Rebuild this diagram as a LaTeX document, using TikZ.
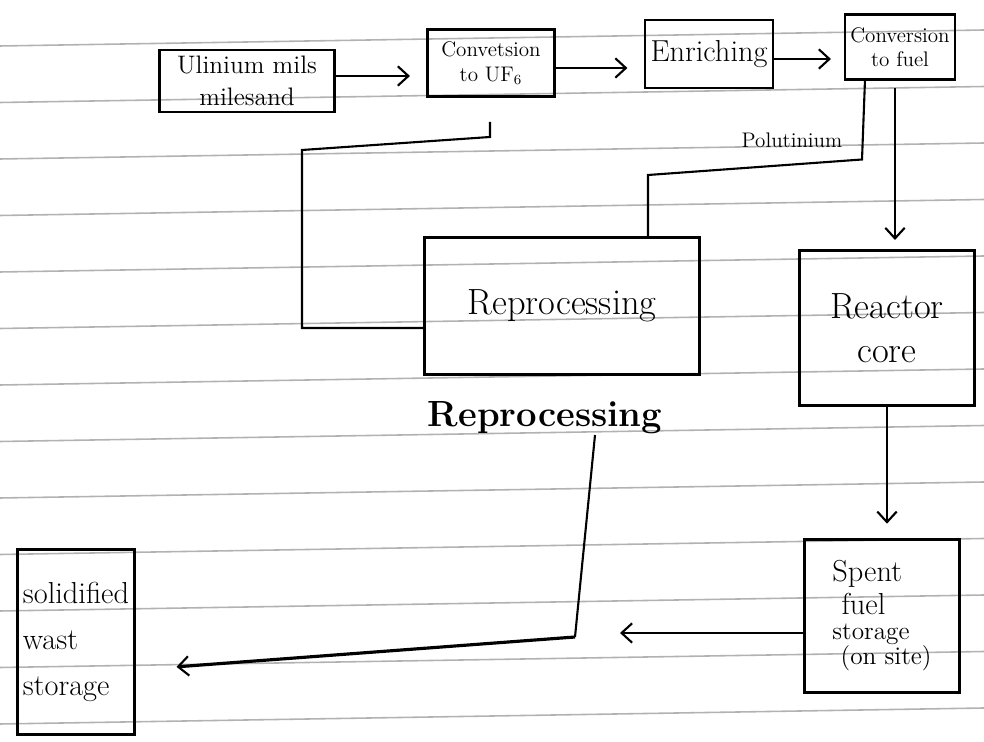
\documentclass[tikz,border=0pt]{standalone}
\usetikzlibrary{arrows.meta}
\begin{document}
\begin{tikzpicture}[x=0.02cm,y=-0.02cm,
    stage/.style={draw,line width=1.2pt,inner sep=1pt,outer sep=0pt,align=center},
    flow/.style={line width=1.2pt},
    arr/.style={flow,-{Straight Barb[length=6pt,width=11pt,line width=1.2pt]}},
    rule/.style={black!30,line width=0.9pt}]
  \useasboundingbox (0,0) rectangle (984,742);
  % the ruled paper
  \foreach \k in {0,...,12}
    \draw[rule] (0,40+56.5*\k+6) -- (984,40+56.5*\k-10);
  % front end of the fuel cycle
  \node[stage,minimum width=3.5cm,minimum height=1.24cm,font=\Large] (mill) at (247,81) {Ulinium mils\\milesand};
  \node[stage,minimum width=2.54cm,minimum height=1.34cm,font=\large] (uf6) at (491,63) {Convetsion\\to UF$_6$};
  \node[stage,minimum width=2.56cm,minimum height=1.36cm,font=\LARGE] (enrich) at (709,54) {Enriching};
  \node[stage,minimum width=2.2cm,minimum height=1.3cm,font=\large] (fuel) at (900,47) {Conversion\\to fuel};
  \draw[arr,shorten >=10pt] ([yshift=0.1cm]mill.east) -- ([yshift=0.1cm]mill.east -| uf6.west);
  \draw[arr,shorten >=10pt] ([yshift=-0.1cm]uf6.east) -- ([yshift=-0.1cm]uf6.east -| enrich.west);
  \draw[arr,shorten >=8pt] ([yshift=-0.1cm]enrich.east) -- ([yshift=-0.1cm]enrich.east -| fuel.west);
  % reactor and spent fuel
  \node[stage,minimum width=3.5cm,minimum height=3.1cm,font=\huge] (core) at (887,328) {Reactor\\core};
  \node[stage,minimum width=3.1cm,minimum height=3.06cm,align=left] (spent) at (882,616)
        {{\LARGE Spent}\\[2pt]{\LARGE \ fuel}\\[2pt]{\Large storage}\\{\Large \ (on site)}};
  \draw[arr,shorten <=5pt,shorten >=6pt] ([xshift=-0.1cm]fuel.south) -- ([xshift=-0.1cm]fuel.south |- core.north);
  \draw[arr,shorten >=9pt] (core.south) -- (core.south |- spent.north);
  % reprocessing and the waste store
  \node[stage,minimum width=5.5cm,minimum height=2.74cm,font=\huge] (repro) at (562,306) {Reprocessing};
  \node[font=\huge\bfseries] (scrib) at (545,418) {Reprocessing};
  \node[stage,minimum width=2.34cm,minimum height=3.7cm,font=\LARGE,align=left] (waste) at (76,642)
        {solidified\\[4pt]wast\\[4pt]storage};
  % plutonium back to fuel conversion
  \coordinate (pk) at (648,175);
  \draw[flow] ([xshift=-0.7cm]fuel.south) -- ++(-3,80)
        node[pos=1,above=3pt,xshift=-1.4cm,font=\large] {Polutinium} -- (pk) -- (pk |- repro.north);
  % uranium back to conversion
  \coordinate (tk) at (490,122);
  \coordinate (lp) at (302,328);
  \draw[flow] (tk) -- ++(0,15) -- (302,150) -- (lp) -- (lp -| repro.west);
  % spent fuel and waste
  \coordinate (jn) at (575,637);
  \coordinate (sj) at (620,633);
  \draw[arr] (spent.west |- sj) -- (sj);
  \draw[flow] (595,435) -- (jn);
  \draw[arr,line width=1.8pt,shorten >=24pt] (jn) -- (waste.east |- 0,670);
\end{tikzpicture}
\end{document}
